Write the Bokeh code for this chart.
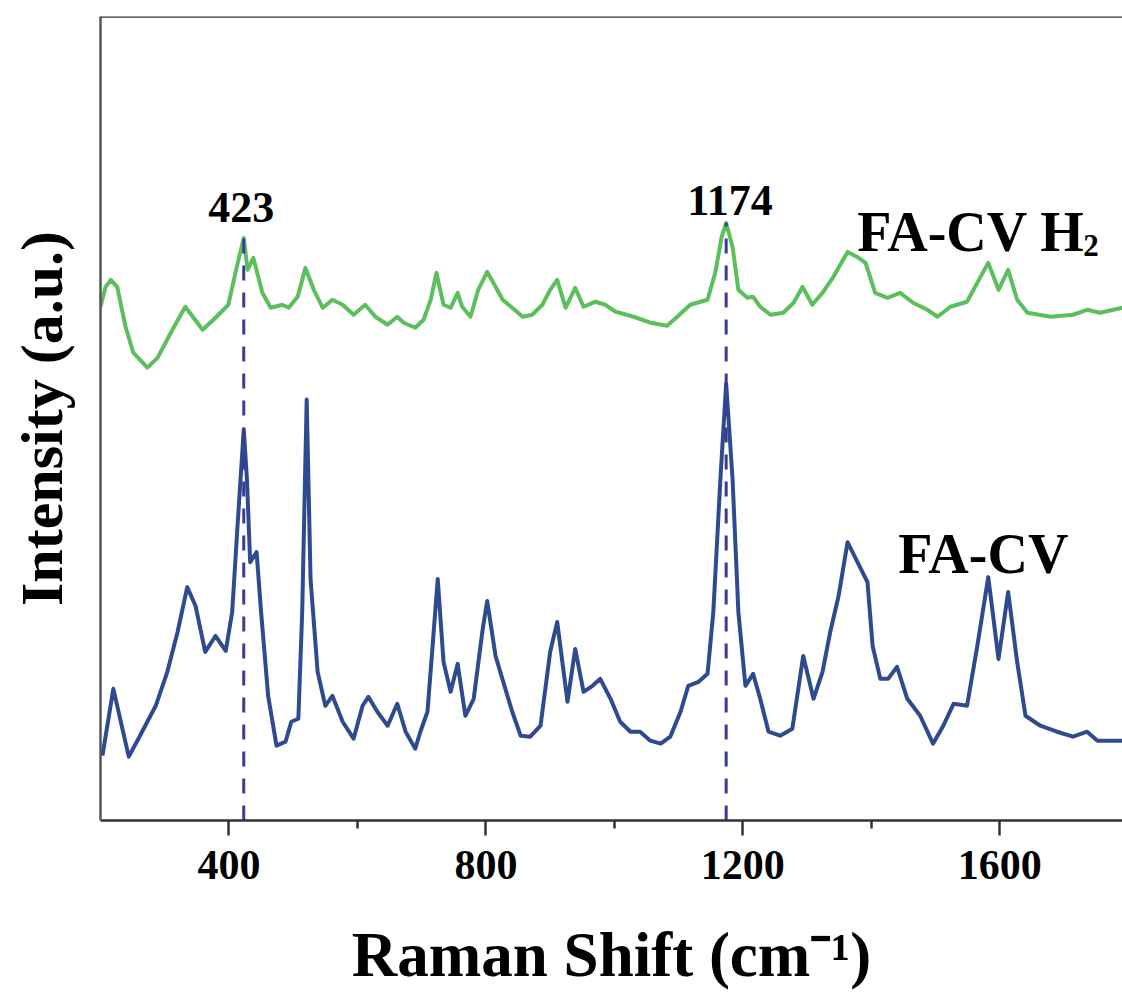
from bokeh.plotting import figure
from bokeh.models import Range1d, FixedTicker, Label, Span
from bokeh.embed import file_html
from bokeh.resources import INLINE

# ---- data (Raman shift in cm-1, intensity in a.u.) ----
raman_fa_cv = [203, 220, 244, 259, 286, 304, 320, 335, 348, 363, 379, 395, 405, 413, 423, 428, 433, 443, 450, 461,
               474, 488, 497, 508, 514, 521, 527, 538, 550, 561, 577, 594, 608, 617, 631, 647, 662, 675, 690, 698,
               709, 717, 725, 734, 745, 756, 768, 781, 795, 802, 815, 827, 841, 854, 869, 885, 900, 911, 927, 939,
               952, 966, 978, 994, 1009, 1025, 1040, 1056, 1072, 1087, 1103, 1115, 1131, 1145, 1154, 1165, 1174, 1184,
               1193, 1204, 1216, 1227, 1240, 1258, 1277, 1294, 1310, 1324, 1336, 1349, 1363, 1380, 1394, 1402, 1414,
               1426, 1440, 1456, 1476, 1496, 1512, 1528, 1549, 1565, 1582, 1598, 1613, 1627, 1640, 1663, 1689, 1714,
               1736, 1752, 1791]
intensity_fa_cv = [65, 132, 64, 82, 115, 149, 189, 234, 215, 169, 185, 170, 209, 292, 392, 342, 259, 269, 209, 125,
                   75, 79, 99, 102, 209, 422, 242, 149, 115, 125, 99, 82, 115, 124, 109, 95, 117, 89, 72, 89,
                   109, 175, 242, 159, 129, 157, 105, 122, 192, 220, 165, 139, 109, 85, 84, 95, 169, 199, 119, 172,
                   129, 135, 142, 122, 99, 89, 89, 80, 77, 84, 109, 135, 139, 147, 209, 342, 438, 342,
                   209, 135, 147, 122, 89, 85, 92, 165, 122, 149, 189, 225, 279, 257, 239, 175, 142,
                   142, 154, 122, 105, 77, 95, 117, 115, 175, 244, 162, 229, 159, 105, 95, 89, 84,
                   89, 80, 80]

raman_fa_cv_h2 = [200, 208, 216, 226, 239, 251, 273, 289, 312, 332, 359, 379, 399, 410, 423, 429, 438, 452, 465, 483,
                  493, 507, 519, 532, 546, 561, 577, 594, 612, 628, 647, 662, 672, 690, 703, 714, 723, 734, 745,
                  756, 763, 776, 788, 802, 815, 826, 841, 857, 872, 888, 900, 911, 924, 939, 952, 970, 986, 1002,
                  1030, 1056, 1082, 1098, 1118, 1145, 1157, 1167, 1174, 1184, 1193, 1207, 1216, 1227, 1243, 1263,
                  1279, 1293, 1308, 1324, 1341, 1363, 1378, 1391, 1406, 1425, 1445, 1465, 1487, 1503, 1523, 1549,
                  1570, 1582, 1598, 1613, 1627, 1643, 1679, 1714, 1736, 1756, 1791]
intensity_fa_cv_h2 = [515, 535, 542, 535, 495, 469, 454, 464, 492, 515, 492, 504, 517, 549, 584, 552, 564, 529, 514, 517,
                      514, 525, 554, 532, 514, 522, 517, 507, 517, 505, 497, 505, 499, 494, 502, 522, 549, 517, 514,
                      529, 515, 505, 532, 550, 535, 522, 514, 505, 507, 517, 532, 542, 514, 534, 515, 520, 517, 510,
                      505, 499, 496, 505, 517, 522, 549, 585, 599, 575, 532, 524, 525, 515, 507, 509,
                      519, 535, 517, 529, 545, 570, 565, 559, 529, 524, 529, 519, 512, 505, 515, 520,
                      545, 559, 532, 552, 522, 509, 505, 507, 512, 509, 514]

marked_peaks = [423, 1174]
marked_peak_tops = [584, 599]
peak_labels = ["423", "1174"]
x_ticks = [400, 800, 1200, 1600]
x_minor_ticks = [600, 1000, 1400]

FONT = "Liberation Serif"
BLUE = "#2F4B8F"
GREEN = "#5CBF5C"
DASH = "#3A3A9A"
AXIS = "#333333"

p = figure(width=1122, height=992, output_backend="svg", toolbar_location=None,
           x_range=Range1d(200, 1791), y_range=Range1d(0, 806),
           min_border_left=100, min_border_right=0, min_border_top=16, min_border_bottom=170)
p.grid.visible = False
p.outline_line_color = None
p.background_fill_color = "white"
p.border_fill_color = "white"

# x axis
xa = p.xaxis[0]
xa.ticker = FixedTicker(ticks=x_ticks, minor_ticks=x_minor_ticks)
xa.axis_line_color = AXIS
xa.axis_line_width = 2.5
xa.major_tick_line_color = AXIS
xa.major_tick_line_width = 2.5
xa.major_tick_out = 15
xa.major_tick_in = 0
xa.minor_tick_line_color = AXIS
xa.minor_tick_line_width = 2.5
xa.minor_tick_out = 8
xa.minor_tick_in = 0
xa.major_label_text_font = FONT
xa.major_label_text_font_style = "bold"
xa.major_label_text_font_size = "42px"
xa.major_label_text_color = "black"
xa.major_label_standoff = 15
xa.axis_label = "Raman Shift (cm\u207b\u00b9)"
xa.axis_label_text_font = FONT
xa.axis_label_text_font_style = "bold"
xa.axis_label_text_font_size = "63px"
xa.axis_label_text_color = "black"
xa.axis_label_standoff = 38

# y axis: line and title only
ya = p.yaxis[0]
ya.ticker = FixedTicker(ticks=[])
ya.axis_line_color = "#555555"
ya.axis_line_width = 2.5
ya.major_tick_line_color = None
ya.minor_tick_line_color = None
ya.axis_label = "Intensity (a.u.)"
ya.axis_label_text_font = FONT
ya.axis_label_text_font_style = "bold"
ya.axis_label_text_font_size = "60px"
ya.axis_label_text_color = "black"
ya.axis_label_standoff = 26

# top frame border
p.add_layout(Span(location=806, dimension="width", line_color=AXIS, line_width=2.5))

# spectra
p.line(raman_fa_cv, intensity_fa_cv, line_color=BLUE, line_width=4, line_join="round")
p.line(raman_fa_cv_h2, intensity_fa_cv_h2, line_color=GREEN, line_width=4, line_join="round")

# dashed peak markers
p.segment(x0=marked_peaks, y0=[0] * len(marked_peaks), x1=marked_peaks, y1=marked_peak_tops,
          line_color=DASH, line_width=3, line_dash="15 12")

def lab(x, y, text, size, align="left", baseline="alphabetic"):
    p.add_layout(Label(x=x, y=y, text=text, text_font=FONT, text_font_style="bold",
                       text_font_size=size, text_color="black", text_align=align,
                       text_baseline=baseline))

# peak labels
lab(419, 615, peak_labels[0], "44px", align="center")
lab(1180, 622, peak_labels[1], "44px", align="center")

# series labels
lab(1378, 590, "FA-CV H", "56px")
lab(1730, 576, "2", "31px")
lab(1442, 267, "FA-CV", "56px")

open("out.html", "w").write(file_html(p, INLINE))
